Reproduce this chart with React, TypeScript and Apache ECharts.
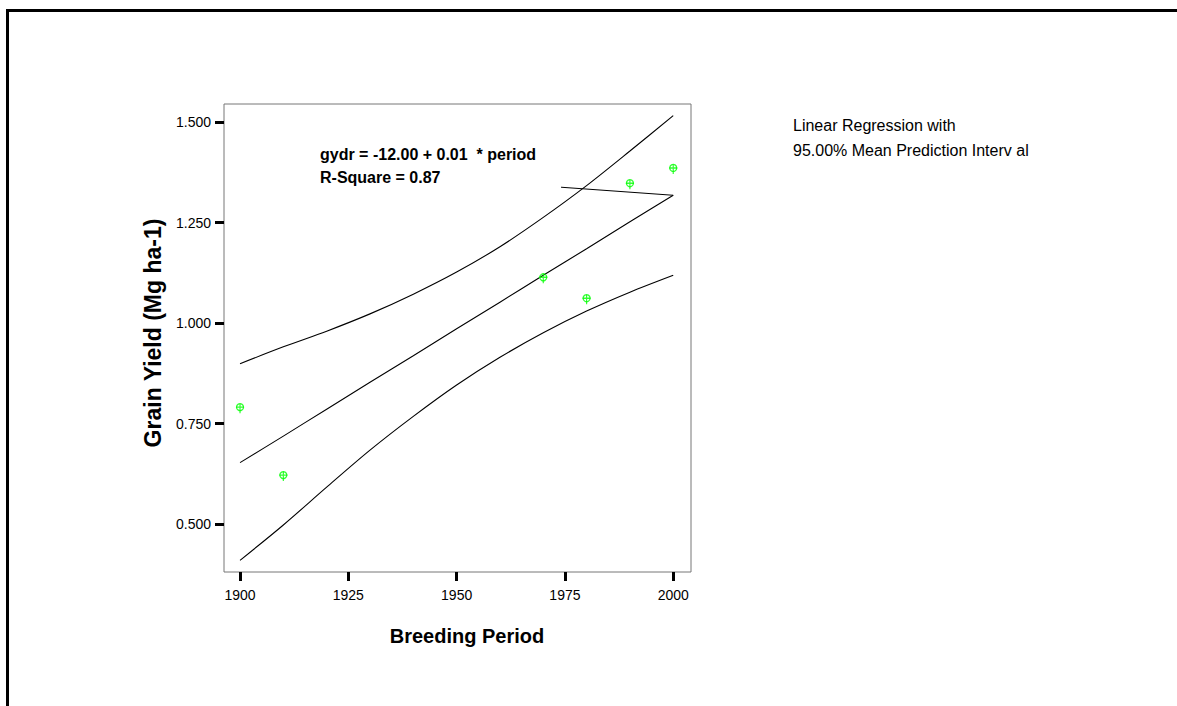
import React, { useEffect, useRef } from "react";
import * as echarts from "echarts";

// Regression curve sample positions (years) and values
const bandYears = [1900, 1910, 1920, 1930, 1940, 1950, 1960, 1970, 1980, 1990, 2000];
const upperBand = [0.899, 0.941, 0.980, 1.023, 1.072, 1.127, 1.190, 1.263, 1.342, 1.428, 1.516];
const fitLine = [0.653, 0.719, 0.786, 0.853, 0.919, 0.986, 1.052, 1.119, 1.185, 1.252, 1.318];
const lowerBand = [0.410, 0.498, 0.592, 0.684, 0.768, 0.846, 0.915, 0.976, 1.030, 1.077, 1.119];

// Observed data points
const obsYears = [1900, 1910, 1970, 1980, 1990, 2000];
const obsYield = [0.791, 0.622, 1.114, 1.062, 1.348, 1.386];

// Leader line of the equation annotation
const leaderYears = [1974.1, 2000];
const leaderValues = [1.338, 1.318];

// Axis ticks
const xTicks = [1900, 1925, 1950, 1975, 2000];
const yTicks = [0.5, 0.75, 1.0, 1.25, 1.5];

const FONT = "Arial, 'Liberation Sans', Helvetica, sans-serif";

const crossPath = "path://M4,0 L4,9.5 M0,3.5 L8,3.5";

export default function App() {
  const ref = useRef<HTMLDivElement>(null);

  useEffect(() => {
    if (!ref.current) return;
    const chart = echarts.init(ref.current, null, { renderer: "svg" });

    const toPairs = (xs: number[], ys: number[]) => xs.map((x, i) => [x, ys[i]]);
    const obsData = toPairs(obsYears, obsYield);

    const lineSeries = (name: string, values: number[]) => ({
      name,
      type: "line",
      data: toPairs(bandYears, values),
      showSymbol: false,
      symbol: "none",
      smooth: 0.3,
      lineStyle: { color: "#000", width: 1.1 },
      silent: true,
      z: 2,
    });

    chart.setOption({
      animation: false,
      backgroundColor: "#fff",
      grid: {
        left: 224,
        top: 104,
        width: 467,
        height: 468,
        show: true,
        borderColor: "#777",
        borderWidth: 1,
        backgroundColor: "transparent",
      },
      xAxis: {
        type: "value",
        min: 1896.3,
        max: 2004.1,
        axisLine: { show: false },
        splitLine: { show: false },
        axisTick: {
          show: true,
          length: 9,
          customValues: xTicks,
          lineStyle: { color: "#000", width: 3 },
        },
        axisLabel: {
          customValues: xTicks,
          fontSize: 14,
          fontFamily: FONT,
          color: "#000",
          margin: 16,
          formatter: (v: number) => String(Math.round(v)),
        },
      },
      yAxis: {
        type: "value",
        min: 0.381,
        max: 1.545,
        axisLine: { show: false },
        splitLine: { show: false },
        axisTick: {
          show: true,
          length: 9,
          customValues: yTicks,
          lineStyle: { color: "#000", width: 3 },
        },
        axisLabel: {
          customValues: yTicks,
          fontSize: 14,
          fontFamily: FONT,
          color: "#000",
          margin: 13,
          formatter: (v: number) => v.toFixed(3),
        },
      },
      series: [
        lineSeries("Upper", upperBand),
        lineSeries("Fit", fitLine),
        lineSeries("Lower", lowerBand),
        {
          name: "Leader",
          type: "line",
          data: toPairs(leaderYears, leaderValues),
          showSymbol: false,
          symbol: "none",
          lineStyle: { color: "#000", width: 1 },
          silent: true,
        },
        {
          name: "Observed",
          type: "scatter",
          data: obsData,
          symbol: "circle",
          symbolSize: 7,
          itemStyle: {
            color: "rgba(0,0,0,0)",
            borderColor: "#00ff00",
            borderWidth: 1.3,
          },
          z: 5,
        },
        {
          name: "ObservedCross",
          type: "scatter",
          data: obsData,
          symbol: crossPath,
          symbolSize: [8, 9.5],
          symbolOffset: [0, 1.25],
          itemStyle: {
            color: "rgba(0,0,0,0)",
            borderColor: "#00ff00",
            borderWidth: 1.3,
          },
          silent: true,
          z: 6,
        },
      ],
      graphic: [
        {
          type: "rect",
          silent: true,
          shape: { x: 7.5, y: 10.5, width: 1400, height: 900 },
          style: { fill: "none", stroke: "#000", lineWidth: 3 },
        },
        {
          type: "text",
          silent: true,
          x: 320,
          y: 142.5,
          style: {
            text: "gydr = -12.00 + 0.01  * period\nR-Square = 0.87",
            font: `bold 16px ${FONT}`,
            fill: "#000",
            lineHeight: 23,
            align: "left",
            verticalAlign: "top",
          },
        },
        {
          type: "text",
          silent: true,
          x: 793,
          y: 112.5,
          style: {
            text: "Linear Regression with\n95.00% Mean Prediction Interv al",
            font: `16px ${FONT}`,
            fill: "#000",
            lineHeight: 25,
            align: "left",
            verticalAlign: "top",
          },
        },
        {
          type: "text",
          silent: true,
          x: 153,
          y: 333,
          rotation: Math.PI / 2,
          style: {
            text: "Grain Yield (Mg ha-1)",
            font: `bold 23px ${FONT}`,
            fill: "#000",
            align: "center",
            verticalAlign: "middle",
          },
        },
        {
          type: "text",
          silent: true,
          x: 467,
          y: 636,
          style: {
            text: "Breeding Period",
            font: `bold 20px ${FONT}`,
            fill: "#000",
            align: "center",
            verticalAlign: "middle",
          },
        },
      ],
    });

    return () => {
      chart.dispose();
    };
  }, []);

  return (
    <div
      ref={ref}
      style={{
        position: "absolute",
        left: 0,
        top: 0,
        width: 1177,
        height: 706,
        background: "#fff",
      }}
    />
  );
}
